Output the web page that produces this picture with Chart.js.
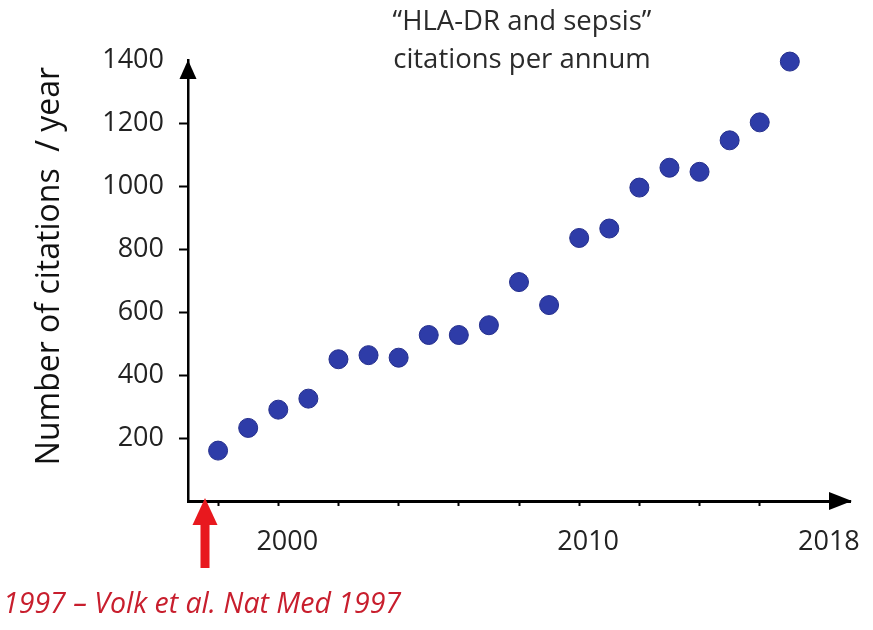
<!DOCTYPE html>
<html>
<head>
<meta charset="utf-8">
<title>HLA-DR and sepsis citations</title>
<script src="https://cdn.jsdelivr.net/npm/chart.js@4.4.1/dist/chart.umd.min.js"></script>
<style>
    html, body { margin: 0; padding: 0; background: #ffffff; }
    #wrap { width: 873px; height: 630px; }
</style>
</head>
<body>
<div id="wrap"><canvas id="citationChart" width="873" height="630"></canvas></div>
<script>
// Citations per year for "HLA-DR and sepsis"
const years = [1998, 1999, 2000, 2001, 2002, 2003, 2004, 2005, 2006, 2007,
               2008, 2009, 2010, 2011, 2012, 2013, 2014, 2015, 2016, 2017];
const citations = [160, 232, 290, 325, 450, 463, 455, 527, 527, 558,
                   695, 622, 835, 865, 995, 1058, 1045, 1145, 1202, 1395];

const xTickYears = [1998, 2000, 2002, 2004, 2006, 2008, 2010, 2012, 2014, 2016, 2018];
const xLabelYears = [2000, 2010, 2018];
const yTickValues = [0, 200, 400, 600, 800, 1000, 1200, 1400];

const titleLines = ['\u201cHLA-DR and sepsis\u201d', 'citations per annum'];
const yAxisTitle = 'Number of citations  / year';
const noteText = '1997 \u2013 Volk et al. Nat Med 1997';

const FONT = "'Open Sans', 'DejaVu Sans', sans-serif";
const DOT_BLUE = 'rgb(46, 60, 168)';
const NOTE_RED = 'rgb(200, 30, 45)';
const ARROW_RED = 'rgb(232, 24, 30)';

Chart.defaults.font.family = FONT;

// arrowheads, titles and the red publication marker
const decorations = {
    id: 'decorations',
    afterDraw(chart) {
        const ctx = chart.ctx;
        const area = chart.chartArea;
        ctx.save();

        // axis arrowheads
        ctx.fillStyle = '#000';
        ctx.beginPath();
        ctx.moveTo(area.left, area.top);
        ctx.lineTo(area.left - 8.5, area.top + 19);
        ctx.lineTo(area.left + 8.5, area.top + 19);
        ctx.closePath();
        ctx.fill();

        ctx.beginPath();
        ctx.moveTo(area.right + 2, area.bottom);
        ctx.lineTo(area.right - 21, area.bottom - 9);
        ctx.lineTo(area.right - 21, area.bottom + 9);
        ctx.closePath();
        ctx.fill();

        // y axis title
        ctx.fillStyle = '#111';
        ctx.font = '32px ' + FONT;
        ctx.textAlign = 'center';
        ctx.textBaseline = 'middle';
        ctx.translate(50, 266);
        ctx.rotate(-Math.PI / 2);
        ctx.fillText(yAxisTitle, 0, 0);
        ctx.setTransform(1, 0, 0, 1, 0, 0);

        // chart title, top right
        ctx.fillStyle = '#2b2b2b';
        ctx.font = '27.5px ' + FONT;
        ctx.fillText(titleLines[0], 522, 22);
        ctx.fillText(titleLines[1], 522, 60);

        // red arrow pointing at the axis
        const ax = area.left + 17;
        ctx.fillStyle = ARROW_RED;
        ctx.beginPath();
        ctx.moveTo(ax, area.bottom - 3);
        ctx.lineTo(ax - 12.5, area.bottom + 24);
        ctx.lineTo(ax + 12.5, area.bottom + 24);
        ctx.closePath();
        ctx.fill();
        ctx.fillRect(ax - 4.5, area.bottom + 23, 9, 44);

        // publication note
        ctx.fillStyle = NOTE_RED;
        ctx.font = 'italic 28.5px ' + FONT;
        ctx.textAlign = 'left';
        ctx.fillText(noteText, 3, 605);

        ctx.restore();
    }
};

const ctx = document.getElementById('citationChart').getContext('2d');

new Chart(ctx, {
    type: 'scatter',
    data: {
        datasets: [{
            label: 'Citations',
            data: years.map((y, i) => ({ x: y, y: citations[i] })),
            backgroundColor: DOT_BLUE,
            borderColor: 'rgb(36, 46, 140)',
            borderWidth: 1,
            pointRadius: 9.5,
            pointHoverRadius: 9.5,
            clip: false
        }]
    },
    options: {
        responsive: false,
        animation: false,
        layout: { padding: { top: 60, right: 23, bottom: 0, left: 0 } },
        plugins: {
            legend: { display: false },
            tooltip: { enabled: false }
        },
        scales: {
            x: {
                type: 'linear',
                min: 1997,
                max: 2019,
                afterBuildTicks: scale => {
                    scale.ticks = xTickYears.map(v => ({ value: v }));
                },
                afterFit: scale => { scale.height = 129; },
                border: { display: true, color: '#000', width: 3 },
                grid: {
                    drawOnChartArea: false,
                    drawTicks: true,
                    tickLength: 5,
                    tickWidth: 2,
                    tickColor: c => (c.tick && c.tick.value === 2018) ? 'rgba(0,0,0,0)' : '#000'
                },
                ticks: {
                    autoSkip: false,
                    maxRotation: 0,
                    padding: 20,
                    labelOffset: 9,
                    color: '#222',
                    font: { size: 27 },
                    callback: v => xLabelYears.includes(v) ? String(v) : ''
                }
            },
            y: {
                min: 0,
                max: 1400,
                afterBuildTicks: scale => {
                    scale.ticks = yTickValues.map(v => ({ value: v }));
                },
                afterFit: scale => { scale.width = 188; },
                border: { display: true, color: '#000', width: 2.5 },
                grid: {
                    drawOnChartArea: false,
                    drawTicks: true,
                    tickLength: 9,
                    tickWidth: 2,
                    tickColor: c => (c.tick && (c.tick.value === 0 || c.tick.value === 1400)) ? 'rgba(0,0,0,0)' : '#000'
                },
                ticks: {
                    padding: 15,
                    color: '#222',
                    font: { size: 27 },
                    callback: v => v === 0 ? '' : String(v)
                }
            }
        }
    },
    plugins: [decorations]
});
</script>
</body>
</html>
